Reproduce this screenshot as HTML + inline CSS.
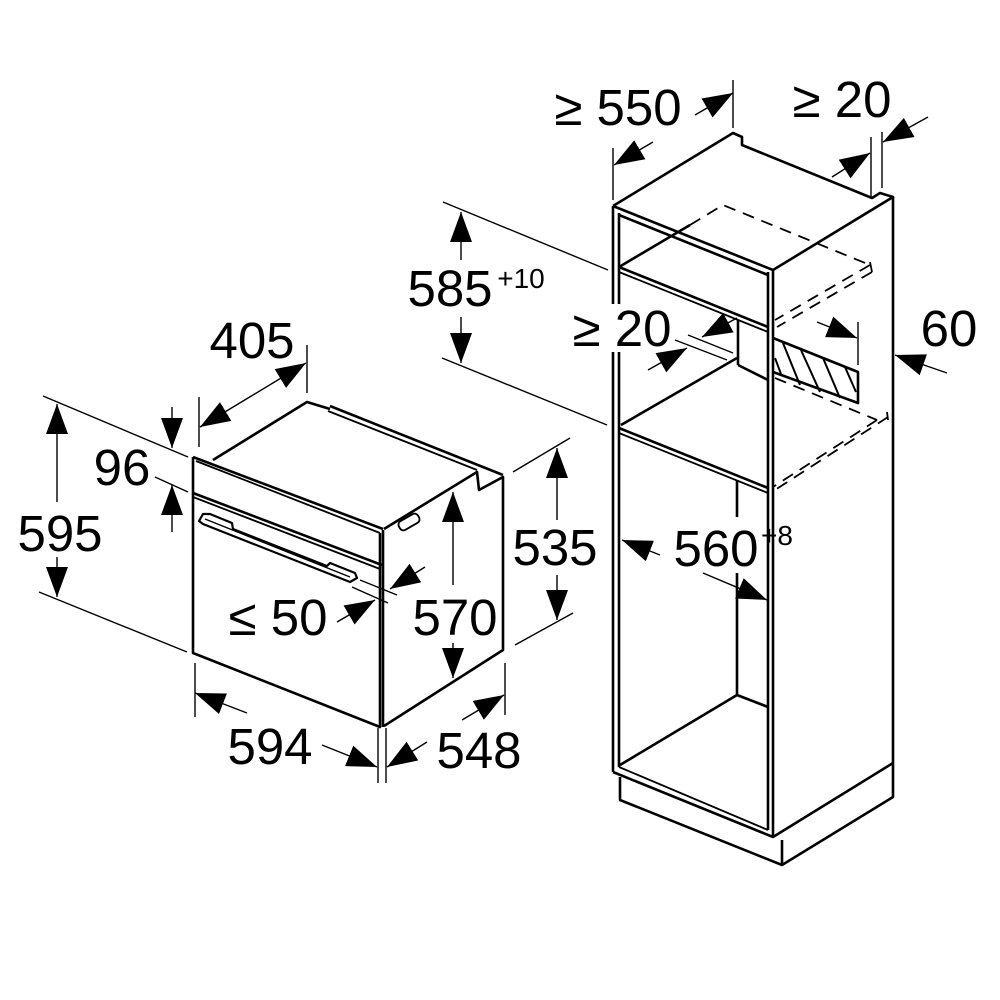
<!DOCTYPE html>
<html><head><meta charset="utf-8"><style>
html,body{margin:0;padding:0;background:#fff}
svg{display:block}
text{font-family:"Liberation Sans",Arial,sans-serif;fill:#000}
</style></head><body>
<svg width="1000" height="1000" viewBox="0 0 1000 1000" xmlns="http://www.w3.org/2000/svg">
<defs>
<marker id="a" markerUnits="userSpaceOnUse" markerWidth="32" markerHeight="24" refX="30" refY="11" orient="auto">
<path d="M0,0 L30,11 L0,22 Z" fill="#000"/>
</marker>
</defs>
<rect width="1000" height="1000" fill="#fff"/>

<!-- ============ OVEN ============ -->
<g fill="none" stroke="#000" stroke-width="2.6" stroke-linejoin="round">
<path d="M193,457 L193,653 L380,727 L380,533"/>
<line x1="383" y1="530" x2="383" y2="727"/>
<path d="M193,457 L383,529"/>
<path d="M196,461 L380,533" stroke-width="1.8"/>
<path d="M193,493 L382,565" />
<path d="M193,497 L380,569" stroke-width="1.8"/>
<path d="M213,460 L307,402 L330,409"/>
<path d="M330,406 L503,475"/>
<path d="M328,411 L477,470" stroke-width="1.8"/>
<path d="M384,529 L477,472 L479,490 L503,477 L503,650 L384,726"/>
<path d="M199,521 L203,514 L210,514 L232,523 L233,529 L327,566 L330,563 L355,573 L357,578 L350,582 L203,524 Z" stroke-width="2.2"/>
<path d="M205,519 L350,577" stroke-width="1.4"/>
<rect x="398" y="517" width="22" height="10" rx="4" transform="rotate(-30 409 522)" stroke-width="1.8"/>
</g>

<g fill="none" stroke="#000" stroke-width="1.4">
<line x1="43" y1="396" x2="188" y2="457"/>
<line x1="39" y1="592" x2="187" y2="652"/>
<line x1="57" y1="502" x2="57" y2="404" marker-end="url(#a)"/>
<line x1="57" y1="557" x2="57" y2="597" marker-end="url(#a)"/>
<line x1="155" y1="477" x2="188" y2="492"/>
<line x1="172" y1="407" x2="172" y2="448" marker-end="url(#a)"/>
<line x1="172" y1="532" x2="172" y2="485" marker-end="url(#a)"/>
<line x1="199" y1="397" x2="199" y2="447"/>
<line x1="307" y1="345" x2="307" y2="393"/>
<line x1="253" y1="395" x2="200" y2="427" marker-end="url(#a)"/>
<line x1="253" y1="395" x2="306" y2="363" marker-end="url(#a)"/>
<line x1="360" y1="580" x2="397" y2="595"/>
<line x1="352" y1="587" x2="388" y2="603"/>
<line x1="337" y1="622" x2="375" y2="600" marker-end="url(#a)"/>
<line x1="425" y1="567" x2="390" y2="589" marker-end="url(#a)"/>
<line x1="453" y1="585" x2="453" y2="492" marker-end="url(#a)"/>
<line x1="453" y1="643" x2="453" y2="678" marker-end="url(#a)"/>
<line x1="513" y1="472" x2="570" y2="438"/>
<line x1="515" y1="645" x2="573" y2="613"/>
<line x1="557" y1="520" x2="557" y2="448" marker-end="url(#a)"/>
<line x1="557" y1="575" x2="557" y2="620" marker-end="url(#a)"/>
<line x1="195" y1="663" x2="195" y2="717"/>
<line x1="378" y1="728" x2="378" y2="783"/>
<line x1="247" y1="713" x2="195" y2="693" marker-end="url(#a)"/>
<line x1="322" y1="745" x2="377" y2="767" marker-end="url(#a)"/>
<line x1="386" y1="728" x2="386" y2="783"/>
<line x1="505" y1="663" x2="505" y2="715"/>
<line x1="427" y1="742" x2="387" y2="767" marker-end="url(#a)"/>
<line x1="462" y1="720" x2="504" y2="695" marker-end="url(#a)"/>
</g>

<!-- ============ CABINET ============ -->
<g fill="none" stroke="#000" stroke-width="2.6" stroke-linejoin="round">
<path d="M613,206 L733,133 L742,137 L742,145 L872,198 L880,193 L893,197 L773,270 L613,206"/>
<line x1="613" y1="206" x2="613" y2="304"/>
<line x1="613" y1="352" x2="613" y2="772"/>
<line x1="619" y1="213" x2="619" y2="304"/>
<line x1="619" y1="352" x2="619" y2="767"/>
<line x1="768" y1="272" x2="768" y2="830"/>
<line x1="773" y1="270" x2="773" y2="837"/>
<line x1="893" y1="197" x2="893" y2="763"/>
<path d="M619,215 L768,275"/>
<path d="M619,267 L768,327"/>
<path d="M619,272 L768,332" stroke-width="1.8"/>
<path d="M619,267 L690,225"/>
<line x1="738" y1="320" x2="738" y2="365"/>
<path d="M738,365 L768,380"/>
<path d="M621,425 L737,358"/>
<path d="M773,338 L858,372 L858,403 L773,372"/>
<path d="M619,428 L768,488"/>
<path d="M619,433 L768,493" stroke-width="1.8"/>
<line x1="737" y1="480" x2="737" y2="517"/>
<line x1="737" y1="573" x2="737" y2="695"/>
<path d="M620,765 L737,695 L768,707"/>
<path d="M613,772 L773,837 L893,763"/>
<path d="M619,767 L768,830" stroke-width="1.8"/>
<path d="M620,777 L620,800 L782,865 L893,797 L893,763"/>
<line x1="782" y1="840" x2="782" y2="865"/>
</g>
<g stroke="#000" stroke-width="2" fill="none">
<line x1="783" y1="343" x2="800" y2="385"/>
<line x1="801" y1="350" x2="820" y2="392"/>
<line x1="823" y1="358" x2="840" y2="398"/>
<line x1="845" y1="367" x2="856" y2="392"/>
<line x1="775" y1="358" x2="781" y2="374"/>
</g>
<g stroke="#000" stroke-width="1.8" fill="none" stroke-dasharray="12,8">
<path d="M690,225 L723,205 L870,265"/>
<path d="M870,265 L775,320"/>
<path d="M872,272 L777,327"/>
<path d="M775,378 L877,420"/>
<path d="M877,420 L773,487"/>
<path d="M888,417 L775,490"/>
</g>
<g stroke="#000" stroke-width="1.8" fill="none">
<path d="M870,262 L872,272"/>
<path d="M887,412 L888,420"/>
</g>

<g fill="none" stroke="#000" stroke-width="1.4">
<line x1="613" y1="148" x2="613" y2="200"/>
<line x1="733" y1="80" x2="733" y2="128"/>
<line x1="653" y1="142" x2="614" y2="165" marker-end="url(#a)"/>
<line x1="695" y1="115" x2="733" y2="93" marker-end="url(#a)"/>
<line x1="871" y1="137" x2="871" y2="197"/>
<line x1="882" y1="132" x2="882" y2="188"/>
<line x1="832" y1="177" x2="870" y2="153" marker-end="url(#a)"/>
<line x1="928" y1="117" x2="883" y2="142" marker-end="url(#a)"/>
<line x1="443" y1="202" x2="608" y2="270"/>
<line x1="442" y1="358" x2="607" y2="425"/>
<line x1="461" y1="260" x2="461" y2="212" marker-end="url(#a)"/>
<line x1="461" y1="317" x2="461" y2="363" marker-end="url(#a)"/>
<line x1="688" y1="335" x2="733" y2="353"/>
<line x1="675" y1="340" x2="727" y2="360"/>
<line x1="737" y1="318" x2="702" y2="337" marker-end="url(#a)"/>
<line x1="648" y1="370" x2="687" y2="348" marker-end="url(#a)"/>
<line x1="858" y1="322" x2="858" y2="365"/>
<line x1="817" y1="322" x2="857" y2="338" marker-end="url(#a)"/>
<line x1="947" y1="373" x2="895" y2="355" marker-end="url(#a)"/>
<line x1="660" y1="555" x2="622" y2="540" marker-end="url(#a)"/>
<line x1="703" y1="573" x2="767" y2="600" marker-end="url(#a)"/>
</g>

<g font-size="51">
<text x="60" y="551" text-anchor="middle">595</text>
<text x="122" y="485" text-anchor="middle">96</text>
<text x="252" y="358" text-anchor="middle">405</text>
<text x="278" y="635" text-anchor="middle">≤ 50</text>
<text x="455" y="635" text-anchor="middle">570</text>
<text x="555" y="565" text-anchor="middle">535</text>
<text x="270" y="764" text-anchor="middle">594</text>
<text x="479" y="768" text-anchor="middle">548</text>
<text x="618" y="125" text-anchor="middle">≥ 550</text>
<text x="842" y="117" text-anchor="middle">≥ 20</text>
<text x="450" y="306" text-anchor="middle">585</text>
<text x="622" y="346" text-anchor="middle">≥ 20</text>
<text x="949" y="346" text-anchor="middle">60</text>
<text x="716" y="566" text-anchor="middle">560</text>
</g>
<text x="521" y="288" font-size="28" text-anchor="middle">+10</text>
<text x="777" y="545" font-size="28" text-anchor="middle">+8</text>
</svg>
</body></html>
